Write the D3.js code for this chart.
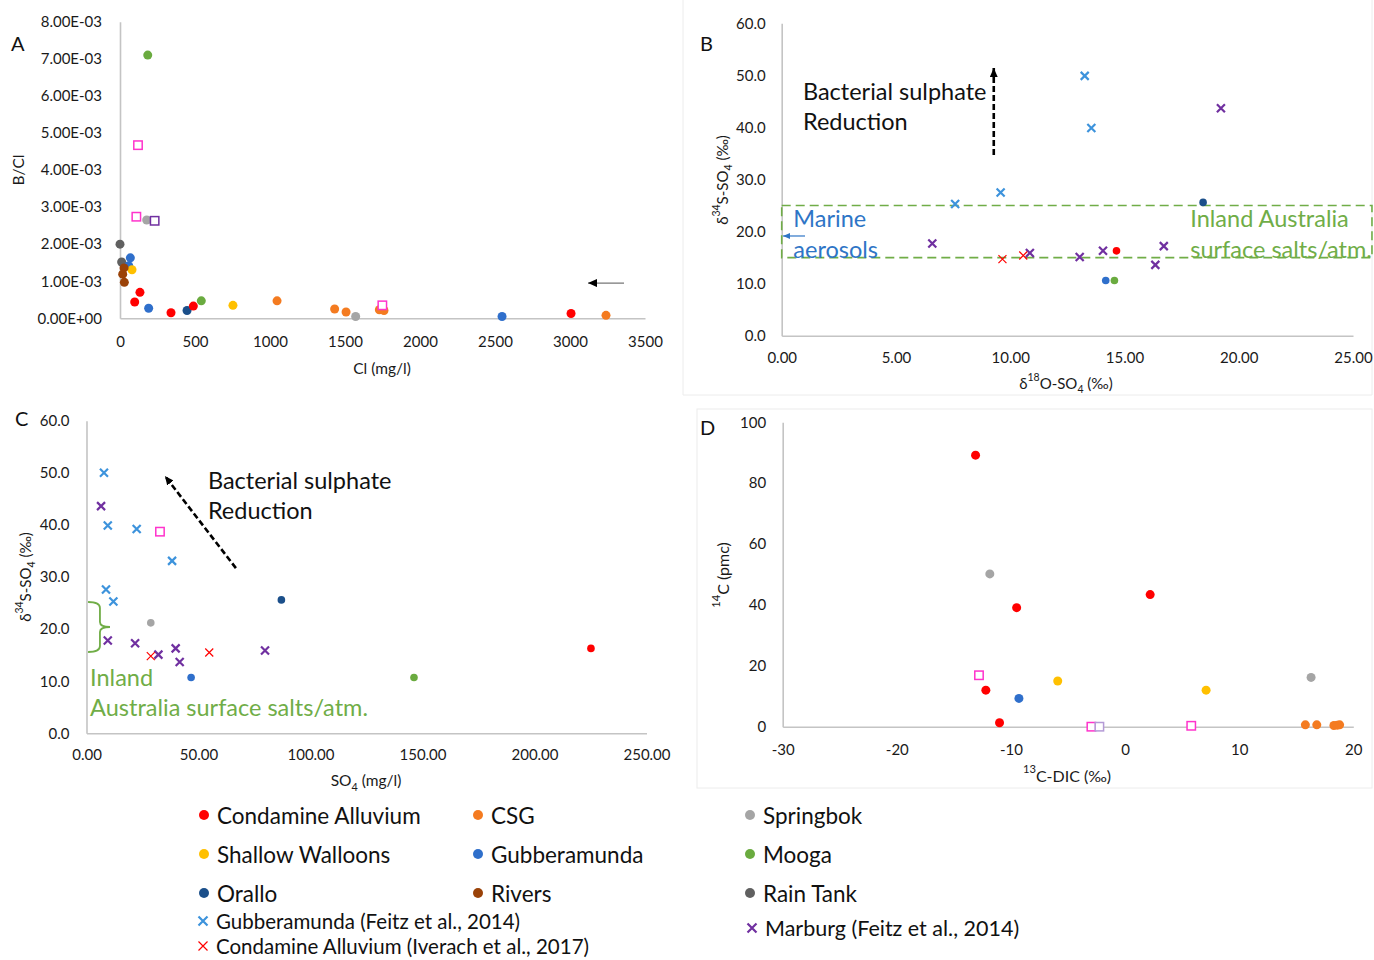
<!DOCTYPE html>
<html>
<head>
<meta charset="utf-8">
<script src="https://cdn.jsdelivr.net/npm/d3@7"></script>
<style>
  body { margin: 0; background: #fff; }
  text { font-family: Lato, "Open Sans", sans-serif; }
</style>
</head>
<body>
<script>
// ---- data ----
// each row: [series, x, y]
const panelA = [
  ["mooga", 185, 7.1e-3], ["sqPink", 120, 4.67e-3], ["sqPink", 109, 2.74e-3],
  ["spring", 178, 2.65e-3], ["sqPurple", 231, 2.63e-3], ["rain", 0, 2.0e-3],
  ["rain", 11, 1.52e-3], ["gubb", 69, 1.63e-3], ["gubb", 58, 1.42e-3],
  ["shallow", 80, 1.31e-3], ["rivers", 27, 1.36e-3], ["rivers", 18, 1.19e-3],
  ["rivers", 29, 0.97e-3], ["cond", 133, 0.70e-3], ["cond", 98, 0.44e-3],
  ["gubb", 191, 0.27e-3], ["cond", 340, 0.15e-3], ["orallo", 447, 0.21e-3],
  ["cond", 489, 0.33e-3], ["mooga", 542, 0.47e-3], ["shallow", 753, 0.35e-3],
  ["csg", 1047, 0.47e-3], ["csg", 1431, 0.25e-3], ["csg", 1507, 0.17e-3],
  ["spring", 1571, 0.05e-3], ["csg", 1729, 0.23e-3], ["csg", 1760, 0.21e-3],
  ["sqPink", 1749, 0.35e-3], ["gubb", 2547, 0.05e-3], ["cond", 3007, 0.13e-3],
  ["csg", 3240, 0.08e-3]
];
const panelB = [
  ["gubbF", 7.59, 25.3], ["gubbF", 9.58, 27.5], ["gubbF", 13.26, 49.9], ["gubbF", 13.55, 39.9],
  ["marb", 6.59, 17.7], ["marb", 10.86, 15.9], ["marb", 13.04, 15.1], ["marb", 14.06, 16.3],
  ["marb", 16.35, 13.6], ["marb", 16.72, 17.2], ["marb", 19.22, 43.7],
  ["condI", 9.66, 14.7], ["condI", 10.57, 15.4],
  ["cond", 14.65, 16.3], ["orallo", 18.44, 25.6], ["gubb", 14.18, 10.6], ["mooga", 14.56, 10.6]
];
const panelC = [
  ["gubbF", 7.8, 50.0], ["gubbF", 9.5, 39.9], ["gubbF", 22.4, 39.2], ["gubbF", 38.2, 33.1],
  ["gubbF", 8.7, 27.6], ["gubbF", 12.0, 25.3],
  ["marb", 6.5, 43.6], ["marb", 9.5, 17.8], ["marb", 21.7, 17.3], ["marb", 32.1, 15.1],
  ["marb", 39.8, 16.3], ["marb", 41.6, 13.7], ["marb", 79.7, 15.9],
  ["condI", 28.7, 14.8], ["condI", 54.8, 15.5],
  ["sqPink", 32.8, 38.7], ["orallo", 87.0, 25.6], ["spring", 28.7, 21.2],
  ["gubb", 46.7, 10.7], ["mooga", 146.2, 10.7], ["cond", 225.2, 16.3]
];
const panelD = [
  ["cond", -13.1, 89.2], ["spring", -11.85, 50.2], ["cond", -9.5, 39.1], ["sqPink", -12.8, 16.9],
  ["cond", -12.2, 12.0], ["gubb", -9.3, 9.3], ["cond", -11.0, 1.3], ["cond", 2.2, 43.4],
  ["shallow", -5.9, 15.0], ["shallow", 7.1, 12.0], ["spring", 16.3, 16.2],
  ["sqPink", -2.95, 0], ["sqLilac", -2.25, 0], ["sqPink", 5.8, 0.3],
  ["csg", 15.8, 0.6], ["csg", 16.8, 0.6], ["csg", 18.3, 0.4], ["csg", 18.6, 0.5], ["csg", 18.8, 0.6]
];

// tick values
const ticksAx = [0, 500, 1000, 1500, 2000, 2500, 3000, 3500];
const ticksAy = [0, 1e-3, 2e-3, 3e-3, 4e-3, 5e-3, 6e-3, 7e-3, 8e-3];
const ticksBx = [0, 5, 10, 15, 20, 25];
const ticksCx = [0, 50, 100, 150, 200, 250];
const ticksSy = [0, 10, 20, 30, 40, 50, 60];
const ticksDx = [-30, -20, -10, 0, 10, 20];
const ticksDy = [0, 20, 40, 60, 80, 100];

// legend
const legendKeys = ["cond", "csg", "spring", "shallow", "gubb", "mooga", "orallo", "rivers", "rain", "gubbF", "marb", "condI"];
const legendLabels = ["Condamine Alluvium", "CSG", "Springbok", "Shallow Walloons", "Gubberamunda", "Mooga",
  "Orallo", "Rivers", "Rain Tank", "Gubberamunda (Feitz et al., 2014)", "Marburg (Feitz et al., 2014)",
  "Condamine Alluvium (Iverach et al., 2017)"];

// marker styles
const style = {
  cond:    { shape: "dot", color: "#ff0000" },
  csg:     { shape: "dot", color: "#f47b20" },
  spring:  { shape: "dot", color: "#a5a5a5" },
  shallow: { shape: "dot", color: "#ffc000" },
  gubb:    { shape: "dot", color: "#2f6fcb" },
  mooga:   { shape: "dot", color: "#6aab3f" },
  orallo:  { shape: "dot", color: "#1b4f8a" },
  rivers:  { shape: "dot", color: "#9a4208" },
  rain:    { shape: "dot", color: "#606060" },
  gubbF:   { shape: "x", color: "#3d93dc", w: 2.2 },
  marb:    { shape: "x", color: "#7030a0", w: 2.2 },
  condI:   { shape: "x", color: "#ff0000", w: 1.2 },
  sqPink:  { shape: "sq", color: "#ff33cc" },
  sqPurple:{ shape: "sq", color: "#7030a0" },
  sqLilac: { shape: "sq", color: "#b49ad6" }
};

const svg = d3.select("body").append("svg")
  .attr("width", 1374).attr("height", 960);

// faint panel frames
svg.append("path").attr("d", "M683,0V395H1372V0").attr("fill", "none").attr("stroke", "#ececec");
svg.append("rect").attr("x", 697).attr("y", 409).attr("width", 675).attr("height", 379)
  .attr("fill", "none").attr("stroke", "#ececec");

function marker(g, key, cx, cy, r) {
  const s = style[key];
  if (s.shape === "dot") {
    g.append("circle").attr("cx", cx).attr("cy", cy).attr("r", r).attr("fill", s.color);
  } else if (s.shape === "x") {
    const h = r;
    g.append("path").attr("d", `M${cx - h},${cy - h}L${cx + h},${cy + h}M${cx - h},${cy + h}L${cx + h},${cy - h}`)
      .attr("stroke", s.color).attr("stroke-width", s.w).attr("fill", "none");
  } else {
    const h = r;
    g.append("rect").attr("x", cx - h).attr("y", cy - h).attr("width", 2 * h).attr("height", 2 * h)
      .attr("fill", "#fff").attr("stroke", s.color).attr("stroke-width", 1.5);
  }
}

function sciFmt(v) {
  const [m, e] = v.toExponential(2).split("e");
  const n = +e;
  return m + "E" + (n < 0 ? "-" : "+") + String(Math.abs(n)).padStart(2, "0");
}
const plainInt = d => String(d);

function panel(cfg) {
  const g = svg.append("g");
  const x = d3.scaleLinear().domain(cfg.xd).range(cfg.xr);
  const y = d3.scaleLinear().domain(cfg.yd).range(cfg.yr);

  const xa = g.append("g").attr("transform", `translate(0,${cfg.yr[0]})`)
    .call(d3.axisBottom(x).tickValues(cfg.xt).tickSize(0).tickSizeOuter(0).tickPadding(cfg.xpad).tickFormat(cfg.xf));
  const ya = g.append("g").attr("transform", `translate(${cfg.xr[0]},0)`)
    .call(d3.axisLeft(y).tickValues(cfg.yt).tickSize(0).tickSizeOuter(0).tickPadding(cfg.ypad).tickFormat(cfg.yf));
  [xa, ya].forEach(a => {
    a.select(".domain").attr("stroke", "#c4c4c4").attr("stroke-width", 1.6);
    a.selectAll("text").attr("font-size", 15).attr("fill", "#1a1a1a").attr("font-family", "Lato, sans-serif");
  });

  g.append("text").attr("x", cfg.letter[0]).attr("y", cfg.letter[1]).attr("font-size", 20)
    .attr("dominant-baseline", "central").attr("fill", "#111").text(cfg.name);

  cfg.data.forEach(d => marker(g, d[0], x(d[1]), y(d[2]), style[d[0]].shape === "dot" ? cfg.r : (style[d[0]].shape === "x" ? 4 : 4.2)));
  return { g, x, y };
}

function axisTitle(g, cx, cy, rot, parts, size) {
  const t = g.append("text").attr("text-anchor", "middle").attr("dominant-baseline", "central")
    .attr("font-size", size).attr("fill", "#1a1a1a")
    .attr("transform", `translate(${cx},${cy})` + (rot ? " rotate(-90)" : ""));
  parts.forEach(p => {
    const ts = t.append("tspan").text(p.t);
    if (p.sup) ts.attr("baseline-shift", "super").attr("font-size", size * 0.7);
    if (p.sub) ts.attr("baseline-shift", "sub").attr("font-size", size * 0.7);
  });
}

const marker_defs = svg.append("defs");
function arrowDef(id, color, w, h) {
  marker_defs.append("marker").attr("id", id).attr("viewBox", `0 0 ${w} ${h}`)
    .attr("refX", w).attr("refY", h / 2).attr("markerWidth", w).attr("markerHeight", h)
    .attr("markerUnits", "userSpaceOnUse").attr("orient", "auto")
    .append("path").attr("d", `M0,0L${w},${h / 2}L0,${h}Z`).attr("fill", color);
}
arrowDef("blk", "#000", 9, 8);
arrowDef("blkSmall", "#000", 9, 8);
arrowDef("blu", "#2e75c6", 7, 6);

const annSize = 23.5;

// ---- Panel A ----
const A = panel({
  name: "A", letter: [11, 43], data: panelA, r: 4.5,
  xd: [0, 3500], xr: [120, 645], yd: [0, 0.008], yr: [318.3, 21.7],
  xt: ticksAx, yt: ticksAy, xf: plainInt, yf: sciFmt, xpad: 18, ypad: 18
});
axisTitle(A.g, 18, 170, true, [{ t: "B/Cl" }], 15.5);
axisTitle(A.g, 382, 368, false, [{ t: "Cl (mg/l)" }], 15.5);
A.g.append("line").attr("x1", A.x(3360)).attr("x2", A.x(3120)).attr("y1", A.y(0.95e-3)).attr("y2", A.y(0.95e-3))
  .attr("stroke", "#777").attr("stroke-width", 1.4).attr("marker-end", "url(#blkSmall)");

// ---- Panel B ----
const B = panel({
  name: "B", letter: [700, 43], data: [], r: 3.8,
  xd: [0, 25], xr: [781.7, 1353], yd: [0, 60], yr: [335.7, 23.3],
  xt: ticksBx, yt: ticksSy, xf: d3.format(".2f"), yf: d3.format(".1f"), xpad: 17, ypad: 16
});
// dashed box
B.g.append("rect").attr("x", B.x(0)).attr("y", B.y(25)).attr("width", B.x(25.83) - B.x(0)).attr("height", B.y(15) - B.y(25))
  .attr("fill", "none").attr("stroke", "#70ad47").attr("stroke-width", 1.6).attr("stroke-dasharray", "9,5");
panelB.forEach(d => marker(B.g, d[0], B.x(d[1]), B.y(d[2]), style[d[0]].shape === "dot" ? 3.8 : 4));
B.g.append("text").attr("font-size", annSize).attr("fill", "#111").attr("dominant-baseline", "central")
  .selectAll("tspan").data(["Bacterial sulphate", "Reduction"]).join("tspan")
  .attr("x", B.x(0.93)).attr("y", (d, i) => B.y([47, 41.2][i])).text(d => d);
B.g.append("line").attr("x1", B.x(9.28)).attr("x2", B.x(9.28)).attr("y1", B.y(34.7)).attr("y2", B.y(51.4))
  .attr("stroke", "#000").attr("stroke-width", 2.6).attr("stroke-dasharray", "6,3").attr("marker-end", "url(#blk)");
B.g.append("text").attr("font-size", annSize).attr("fill", "#2e75c6").attr("dominant-baseline", "central")
  .selectAll("tspan").data(["Marine", "aerosols"]).join("tspan")
  .attr("x", B.x(0.51)).attr("y", (d, i) => B.y([22.6, 16.65][i])).text(d => d);
B.g.append("line").attr("x1", B.x(1.02)).attr("x2", B.x(0.06)).attr("y1", B.y(19.15)).attr("y2", B.y(19.15))
  .attr("stroke", "#2e75c6").attr("stroke-width", 1.2).attr("marker-end", "url(#blu)");
B.g.append("text").attr("font-size", annSize).attr("fill", "#70ad47").attr("dominant-baseline", "central")
  .selectAll("tspan").data(["Inland Australia", "surface salts/atm."]).join("tspan")
  .attr("x", B.x(17.88)).attr("y", (d, i) => B.y([22.6, 16.65][i])).text(d => d);
axisTitle(B.g, 722, 180, true, [{ t: "δ" }, { t: "34", sup: true }, { t: "S-SO" }, { t: "4", sub: true }, { t: " (‰)" }], 15);
axisTitle(B.g, 1066, 383, false, [{ t: "δ" }, { t: "18", sup: true }, { t: "O-SO" }, { t: "4", sub: true }, { t: " (‰)" }], 15);

// ---- Panel C ----
const C = panel({
  name: "C", letter: [15, 418], data: panelC, r: 3.8,
  xd: [0, 250], xr: [86.5, 646.5], yd: [0, 60], yr: [733.3, 420.7],
  xt: ticksCx, yt: ticksSy, xf: d3.format(".2f"), yf: d3.format(".1f"), xpad: 16.5, ypad: 17
});
C.g.append("text").attr("font-size", annSize).attr("fill", "#111").attr("dominant-baseline", "central")
  .selectAll("tspan").data(["Bacterial sulphate", "Reduction"]).join("tspan")
  .attr("x", C.x(54.2)).attr("y", (d, i) => C.y([48.6, 42.9][i])).text(d => d);
C.g.append("line").attr("x1", C.x(66.7)).attr("y1", C.y(31.7)).attr("x2", C.x(35)).attr("y2", C.y(49.4))
  .attr("stroke", "#000").attr("stroke-width", 2.6).attr("stroke-dasharray", "6,3").attr("marker-end", "url(#blk)");
C.g.append("text").attr("font-size", annSize).attr("fill", "#70ad47").attr("dominant-baseline", "central")
  .selectAll("tspan").data(["Inland", "Australia surface salts/atm."]).join("tspan")
  .attr("x", C.x(1.6)).attr("y", (d, i) => C.y([10.8, 5.05][i])).text(d => d);
{
  const xl = C.x(0.7), xs = C.x(6), xt = C.x(10.5);
  const yt = C.y(25.2), ym = C.y(20.4), yb = C.y(15.6);
  C.g.append("path")
    .attr("d", `M${xl},${yt}Q${xs},${yt} ${xs},${yt + 6}L${xs},${ym - 5}Q${xs},${ym} ${xt},${ym}Q${xs},${ym} ${xs},${ym + 5}L${xs},${yb - 6}Q${xs},${yb} ${xl},${yb}`)
    .attr("fill", "none").attr("stroke", "#70ad47").attr("stroke-width", 1.8);
}
axisTitle(C.g, 25, 577, true, [{ t: "δ" }, { t: "34", sup: true }, { t: "S-SO" }, { t: "4", sub: true }, { t: " (‰)" }], 15);
axisTitle(C.g, 366, 780, false, [{ t: "SO" }, { t: "4", sub: true }, { t: " (mg/l)" }], 15.5);

// ---- Panel D ----
const D = panel({
  name: "D", letter: [700, 427], data: panelD, r: 4.5,
  xd: [-30, 20], xr: [782.7, 1353.3], yd: [0, 100], yr: [726.7, 422.3],
  xt: ticksDx, yt: ticksDy, xf: plainInt, yf: plainInt, xpad: 18, ypad: 16.5
});
axisTitle(D.g, 722, 575, true, [{ t: "14", sup: true }, { t: "C (pmc)" }], 16);
axisTitle(D.g, 1067, 775, false, [{ t: "13", sup: true }, { t: "C-DIC (‰)" }], 16);

// ---- legend ----
const legCols = [204, 478, 750];
const legRows = [815, 854, 893];
const lg = svg.append("g");
legendKeys.forEach((k, i) => {
  let lx, ly, fs = 22.5;
  if (i < 9) { lx = legCols[i % 3]; ly = legRows[Math.floor(i / 3)]; }
  else if (i === 9) { lx = 203; ly = 921; fs = 20.5; }
  else if (i === 10) { lx = 752; ly = 928; fs = 21.5; }
  else { lx = 203; ly = 946; fs = 20.5; }
  marker(lg, k, lx, ly, style[k].shape === "dot" ? 5 : 4.5);
  lg.append("text").attr("x", lx + 13).attr("y", ly).attr("dominant-baseline", "central")
    .attr("font-size", fs).attr("fill", "#111").text(legendLabels[i]);
});
</script>
</body>
</html>
